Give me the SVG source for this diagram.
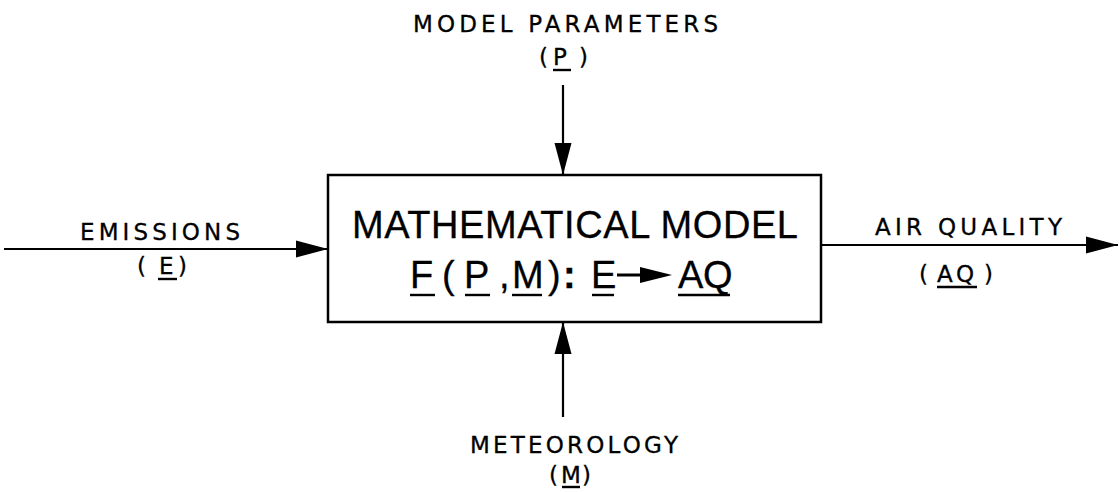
<svg xmlns="http://www.w3.org/2000/svg" width="1119" height="492" viewBox="0 0 1119 492">
<style>
text{font-family:"Liberation Sans",Arial,sans-serif;fill:#000}
.lbl{font-family:"DejaVu Sans","Liberation Sans",sans-serif;font-size:23px;stroke:#000;stroke-width:0.3}
.big{font-size:38px;stroke:#000;stroke-width:0.3}
.ul{stroke:#000;stroke-width:2.4}
.conn{stroke:#000;stroke-width:2.2;fill:none}
</style>
<defs>
<marker id="ah" markerUnits="userSpaceOnUse" markerWidth="34" markerHeight="18" refX="32" refY="9" orient="auto">
<path d="M0,0.5 L32,9 L0,17.5 Z" fill="#000"/>
</marker>
</defs>
<rect width="1119" height="492" fill="#fff"/>
<g id="connectors">
<line class="conn" x1="4" y1="249" x2="328" y2="249" marker-end="url(#ah)"/>
<line class="conn" x1="821" y1="245" x2="1118" y2="245" marker-end="url(#ah)"/>
<line class="conn" x1="563" y1="85" x2="563" y2="175" marker-end="url(#ah)"/>
<line class="conn" x1="563" y1="417" x2="563" y2="322" marker-end="url(#ah)"/>
</g>
<g id="model">
<rect x="328" y="175" width="493" height="147" fill="none" stroke="#000" stroke-width="2.5"/>
<text class="big" x="352" y="238" textLength="446" lengthAdjust="spacing">MATHEMATICAL MODEL</text>
<text class="big" y="288"><tspan x="410">F</tspan><tspan x="442">(</tspan><tspan x="464">P</tspan><tspan x="499">,</tspan><tspan x="512">M</tspan><tspan x="548">)</tspan><tspan x="563" font-weight="bold">:</tspan><tspan x="591">E</tspan><tspan x="678">A</tspan><tspan x="703">Q</tspan></text>
<line class="ul" x1="410" y1="295" x2="435" y2="295"/>
<line class="ul" x1="465" y1="295" x2="490" y2="295"/>
<line class="ul" x1="512" y1="295" x2="542" y2="295"/>
<line class="ul" x1="592" y1="295" x2="614" y2="295"/>
<line class="ul" x1="678" y1="295" x2="730" y2="295"/>
<line x1="617" y1="275" x2="645" y2="275" stroke="#000" stroke-width="3"/>
<path d="M640,267 L672,275 L640,283 Z" fill="#000"/>
</g>
<g id="params">
<text class="lbl" x="413" y="32" textLength="305" lengthAdjust="spacing">MODEL PARAMETERS</text>
<text class="lbl" y="65"><tspan x="539">(</tspan><tspan x="553">P</tspan><tspan x="579">)</tspan></text>
<line class="ul" x1="553" y1="70" x2="571" y2="70"/>
</g>
<g id="emissions">
<text class="lbl" x="80" y="240" textLength="160" lengthAdjust="spacing">EMISSIONS</text>
<text class="lbl" y="274"><tspan x="137">(</tspan><tspan x="159">E</tspan><tspan x="178">)</tspan></text>
<line class="ul" x1="158" y1="279" x2="177" y2="279"/>
</g>
<g id="airquality">
<text class="lbl" x="875" y="235" textLength="187" lengthAdjust="spacing">AIR QUALITY</text>
<text class="lbl" y="282"><tspan x="919">(</tspan><tspan x="937">A</tspan><tspan x="956">Q</tspan><tspan x="984">)</tspan></text>
<line class="ul" x1="937" y1="287" x2="977" y2="287"/>
</g>
<g id="meteorology">
<text class="lbl" x="470" y="453" textLength="208" lengthAdjust="spacing">METEOROLOGY</text>
<text class="lbl" y="483"><tspan x="549">(</tspan><tspan x="561">M</tspan><tspan x="582">)</tspan></text>
<line class="ul" x1="562" y1="487" x2="580" y2="487"/>
</g>
</svg>
